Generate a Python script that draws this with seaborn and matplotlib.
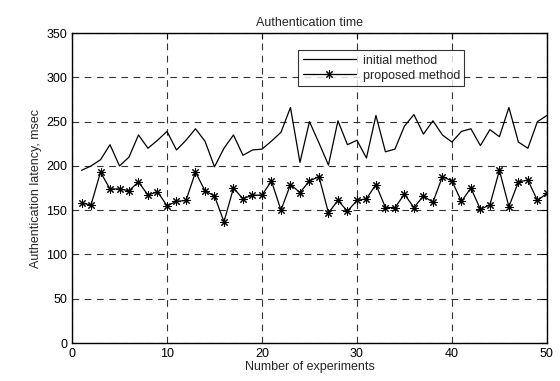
import numpy as np
import pandas as pd
import matplotlib
matplotlib.use("Agg")
import matplotlib.pyplot as plt
import seaborn as sns

# experiment numbers and measured latencies (msec)
experiments = list(range(1, 51))
initial_method = [195, 200, 207, 224, 200, 210, 235, 220, 229, 239,
                  218, 229, 242, 228, 199, 220, 235, 212, 218, 219,
                  228, 238, 266, 204, 250, 226, 201, 251, 224, 229,
                  209, 257, 216, 219, 245, 258, 236, 251, 235, 227,
                  239, 242, 223, 241, 233, 266, 227, 220, 250, 257]
proposed_method = [158, 156, 193, 174, 174, 172, 182, 167, 171, 155,
                   160, 161, 193, 172, 166, 137, 175, 163, 167, 167,
                   183, 150, 179, 170, 183, 188, 147, 161, 149, 161,
                   163, 179, 153, 153, 168, 153, 166, 159, 188, 183,
                   160, 175, 151, 156, 195, 154, 182, 184, 161, 169]

df = pd.DataFrame({
    "experiment": experiments * 2,
    "latency": initial_method + proposed_method,
    "method": ["initial method"] * 50 + ["proposed method"] * 50,
})

sns.set_style("white")
plt.rcParams['font.family'] = ['Liberation Sans', 'DejaVu Sans']

fig = plt.figure(figsize=(5.6, 3.81), dpi=100)
ax = fig.add_axes([0.1286, 0.0997, 0.848, 0.8133])

sns.lineplot(data=df[df.method == "initial method"], x="experiment", y="latency",
             color="black", linewidth=0.9, ax=ax, label="initial method")
sns.lineplot(data=df[df.method == "proposed method"], x="experiment", y="latency",
             color="black", linewidth=0.9, marker=(8, 2, 0), markersize=6,
             markeredgewidth=0.75, markeredgecolor="black", ax=ax,
             label="proposed method")

ax.set_xlim(0, 50)
ax.set_ylim(0, 350)
ax.set_xticks(np.arange(0, 51, 10))
ax.set_yticks(np.arange(0, 351, 50))
ax.grid(True, color="#333333", linestyle=(0, (6, 5)), linewidth=0.8)
ax.tick_params(direction="in", length=4, labelsize=9, colors="black",
               top=True, right=True)
for s in ax.spines.values():
    s.set_color("black")
    s.set_linewidth(1.0)

ax.set_title("Authentication time", fontsize=9, pad=5)
ax.set_xlabel("Number of experiments", fontsize=9, labelpad=1)
ax.set_ylabel("Authentication latency, msec", fontsize=9, labelpad=3)

leg = ax.legend(loc="upper left", bbox_to_anchor=(0.463, 0.965), fontsize=9,
                frameon=True, fancybox=False, edgecolor="black",
                borderpad=0.35, handlelength=4.3, labelspacing=0.25,
                handletextpad=0.5)
leg.get_frame().set_linewidth(0.8)

fig.savefig("out.png", dpi=100)
